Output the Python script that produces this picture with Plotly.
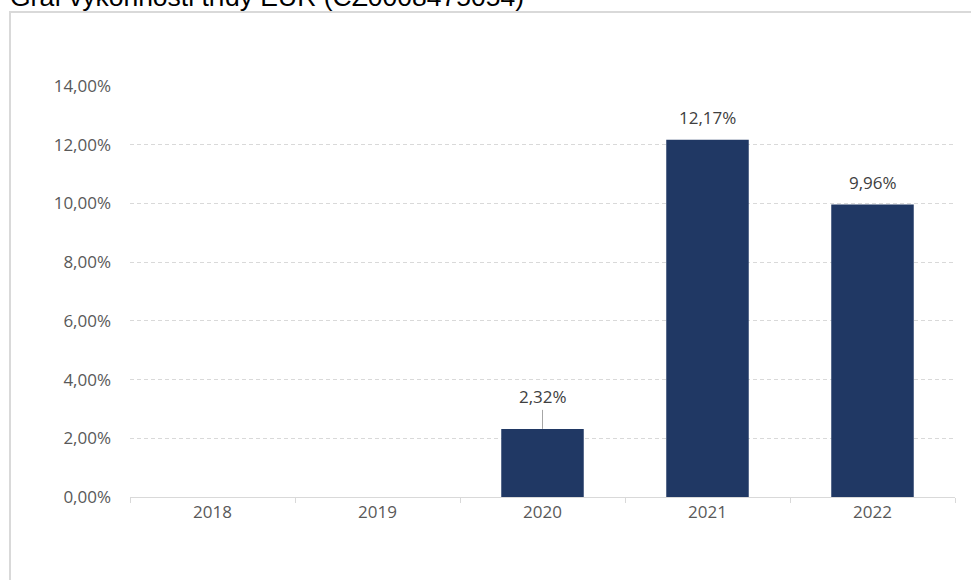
import plotly.graph_objects as go

years = ["2018", "2019", "2020", "2021", "2022"]
returns = [None, None, 2.32, 12.17, 9.96]
y_ticks = [0, 2, 4, 6, 8, 10, 12, 14]
y_tick_labels = ["0,00%", "2,00%", "4,00%", "6,00%", "8,00%", "10,00%", "12,00%", "14,00%"]
title_text = "Graf výkonnosti třídy EUR (CZ0008475054)"

W, H = 971, 580
ML, MR, MT, MB = 130, 16, 86, 83
pw = W - ML - MR
ph = H - MT - MB

def px_x(p):
    return (p - ML) / pw

def px_y(p):
    return (H - MB - p) / ph

font_family = "Open Sans"
fs = 17

fig = go.Figure()
fig.add_trace(go.Bar(
    x=years, y=returns,
    marker=dict(color="#203864", line=dict(width=0)),
    width=0.5,
    hoverinfo="x+y",
))

annotations = []
for i, (yr, v) in enumerate(zip(years, returns)):
    if v is None:
        continue
    label = f"{v:.2f}".replace(".", ",") + "%"
    if v < 4:
        annotations.append(dict(
            x=i, y=v, xref="x", yref="y", text=label,
            showarrow=True, arrowhead=0, arrowwidth=1, arrowcolor="#a6a6a6",
            ax=0, ay=-32, standoff=0,
            font=dict(family=font_family, size=fs, color="#404040"),
        ))
    else:
        annotations.append(dict(
            x=i, y=v, xref="x", yref="y", text=label,
            showarrow=False, yshift=22, yanchor="middle",
            font=dict(family=font_family, size=fs, color="#404040"),
        ))

annotations.append(dict(
    x=px_x(8), y=px_y(14), xref="paper", yref="paper",
    xanchor="left", yanchor="bottom", showarrow=False,
    text=title_text,
    font=dict(family="Liberation Sans", size=26.5, color="#000000"),
))

fig.update_layout(
    width=W, height=H,
    margin=dict(l=ML, r=MR, t=MT, b=MB, autoexpand=False),
    paper_bgcolor="white", plot_bgcolor="white",
    showlegend=False,
    annotations=annotations,
    shapes=[dict(
        type="rect", xref="paper", yref="paper",
        x0=px_x(10), x1=px_x(995), y0=px_y(600), y1=px_y(12),
        line=dict(color="#d9d9d9", width=2), layer="below",
    )],
    xaxis=dict(
        type="category", categoryorder="array", categoryarray=years,
        range=[-0.5, len(years) - 0.5], automargin=False,
        showline=True, linecolor="#d9d9d9", linewidth=1,
        ticks="outside", tickson="boundaries", ticklen=5, tickcolor="#d9d9d9",
        showgrid=False, tickangle=0,
        tickfont=dict(family=font_family, size=fs, color="#595959"),
    ),
    yaxis=dict(
        range=[0, 14], tickvals=y_ticks, ticktext=y_tick_labels,
        automargin=False,
        showgrid=True, gridcolor="#d9d9d9", griddash="4px,3px", gridwidth=1,
        zeroline=False, showline=False,
        ticks="", ticklabelstandoff=18,
        tickfont=dict(family=font_family, size=fs, color="#595959"),
    ),
)

fig.write_html("out.html", config={"displayModeBar": False},
               post_script="document.body.style.margin='0px';")
